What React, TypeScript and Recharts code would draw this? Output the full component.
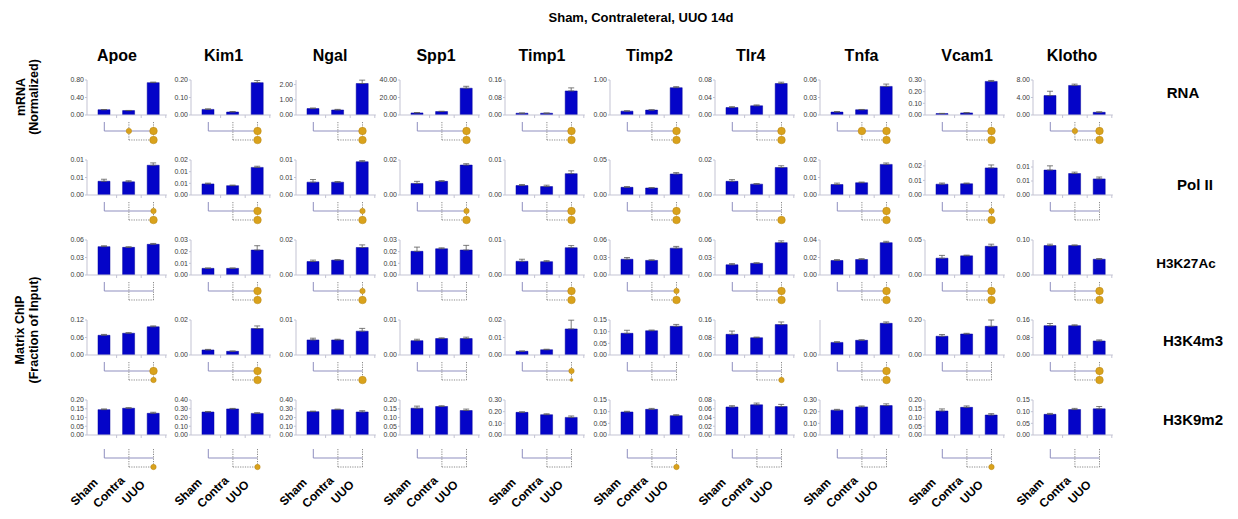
import React from 'react';
import {
  BarChart,
  Bar,
  XAxis,
  YAxis,
  ErrorBar,
  ComposedChart,
  Line,
  ReferenceLine,
  ReferenceDot,
} from 'recharts';

// ---------- data ----------
const groups = ['Sham', 'Contra', 'UUO'];
const genes = ['Apoe', 'Kim1', 'Ngal', 'Spp1', 'Timp1', 'Timp2', 'Tlr4', 'Tnfa', 'Vcam1', 'Klotho'];
const assays = ['RNA', 'Pol II', 'H3K27Ac', 'H3K4m3', 'H3K9m2'];

// mRNA (normalized): mean per gene for Sham, Contra, UUO
const rnaMeans = [
  [0.12, 0.1, 0.74], [0.032, 0.017, 0.185], [0.42, 0.33, 2.07], [2.4, 3.9, 30.6], [0.008, 0.008, 0.11],
  [0.11, 0.14, 0.78], [0.017, 0.021, 0.072], [0.005, 0.009, 0.049], [0.012, 0.018, 0.288], [4.43, 6.76, 0.62],
];
const rnaErr = [
  [0.005, 0.004, 0.012], [0.003, 0.003, 0.012], [0.04, 0.04, 0.22], [0.4, 0.4, 2.2], [0.001, 0.001, 0.014],
  [0.01, 0.01, 0.03], [0.002, 0.002, 0.003], [0.001, 0.0005, 0.004], [0.002, 0.002, 0.008], [1.0, 0.3, 0.1],
];
const rnaTicks = [
  [0, 0.4, 0.8], [0, 0.1, 0.2], [0, 1, 2], [0, 20, 40], [0, 0.08, 0.16],
  [0, 1], [0, 0.04, 0.08], [0, 0.03, 0.06], [0, 0.1, 0.2, 0.3], [0, 4, 8],
];
const rnaMax = [0.8, 0.2, 2.3, 40, 0.16, 1, 0.08, 0.06, 0.3, 8];
// marker sizes for Sham–Contra, Sham–UUO, Contra–UUO (0 none, 1 tiny, 2 small, 3 large)
const rnaSig = [
  [2, 3, 3], [0, 3, 3], [0, 3, 3], [0, 3, 3], [0, 3, 3],
  [0, 3, 3], [0, 3, 3], [3, 3, 3], [0, 3, 3], [2, 3, 3],
];

// Pol II ChIP
const polMeans = [
  [0.0047, 0.0045, 0.0102], [0.0057, 0.0048, 0.0142], [0.0044, 0.0044, 0.0114], [0.0066, 0.0078, 0.0171], [0.0027, 0.0024, 0.0061],
  [0.011, 0.01, 0.03], [0.0078, 0.0062, 0.0157], [0.006, 0.007, 0.0175], [0.0074, 0.0077, 0.0186], [0.0107, 0.0092, 0.0069],
];
const polErr = [
  [0.0007, 0.0004, 0.0008], [0.0004, 0.0003, 0.0006], [0.0009, 0.0002, 0.0004], [0.0012, 0.0004, 0.0008], [0.0003, 0.0004, 0.0008],
  [0.001, 0.0005, 0.002], [0.001, 0.0003, 0.001], [0.0008, 0.0004, 0.0008], [0.0008, 0.0005, 0.002], [0.0018, 0.0006, 0.0008],
];
const polTicks = [
  [0, 0.006, 0.012], [0, 0.006, 0.012, 0.018], [0, 0.006, 0.012], [0, 0.02], [0, 0.01],
  [0, 0.05], [0, 0.02], [0, 0.01, 0.02], [0, 0.01, 0.02], [0, 0.006, 0.012],
];
const polMax = [0.012, 0.018, 0.012, 0.02, 0.01, 0.05, 0.02, 0.02, 0.024, 0.015];
const polSig = [
  [0, 2, 3], [0, 3, 3], [0, 2, 3], [0, 2, 3], [0, 3, 3],
  [0, 3, 3], [0, 0, 3], [0, 3, 3], [0, 2, 3], [0, 0, 0],
];

// H3K27Ac ChIP
const k27Means = [
  [0.0486, 0.0474, 0.0526], [0.0057, 0.0057, 0.0214], [0.0077, 0.0085, 0.0157], [0.0203, 0.0225, 0.0214], [0.0039, 0.0038, 0.0078],
  [0.027, 0.025, 0.046], [0.0175, 0.02, 0.0555], [0.0166, 0.0177, 0.037], [0.024, 0.0274, 0.041], [0.084, 0.084, 0.045],
];
const k27Err = [
  [0.0015, 0.001, 0.0015], [0.0003, 0.0003, 0.0037], [0.0008, 0.0003, 0.0015], [0.0036, 0.0008, 0.004], [0.0006, 0.0003, 0.0006],
  [0.003, 0.001, 0.003], [0.002, 0.001, 0.003], [0.001, 0.001, 0.0015], [0.004, 0.001, 0.003], [0.004, 0.002, 0.002],
];
const k27Ticks = [
  [0, 0.03, 0.06], [0, 0.01, 0.02, 0.03], [0, 0.02], [0, 0.01, 0.02, 0.03], [0, 0.01],
  [0, 0.03, 0.06], [0, 0.03, 0.06], [0, 0.02, 0.04], [0, 0.05], [0, 0.1],
];
const k27Max = [0.06, 0.03, 0.02, 0.03, 0.01, 0.06, 0.06, 0.04, 0.05, 0.1];
const k27Sig = [
  [0, 0, 0], [0, 3, 3], [0, 2, 3], [0, 0, 0], [0, 3, 3],
  [0, 2, 3], [0, 3, 3], [0, 3, 3], [0, 3, 3], [0, 3, 3],
];

// H3K4m3 ChIP
const k4Means = [
  [0.0676, 0.0746, 0.0967], [0.0029, 0.0021, 0.0151], [0.0043, 0.0043, 0.0068], [0.0041, 0.0047, 0.0047], [0.0021, 0.003, 0.0149],
  [0.093, 0.104, 0.123], [0.0945, 0.079, 0.139], [0.072, 0.084, 0.181], [0.107, 0.12, 0.164], [0.134, 0.134, 0.064],
];
const k4Err = [
  [0.003, 0.002, 0.003], [0.0003, 0.0002, 0.0015], [0.0005, 0.0002, 0.0008], [0.0004, 0.0002, 0.0004], [0.0002, 0.0003, 0.005],
  [0.013, 0.003, 0.008], [0.015, 0.003, 0.012], [0.004, 0.003, 0.008], [0.01, 0.004, 0.036], [0.01, 0.004, 0.005],
];
const k4Ticks = [
  [0, 0.06, 0.12], [0, 0.02], [0, 0.01], [0, 0.01], [0, 0.01, 0.02],
  [0, 0.05, 0.1, 0.15], [0, 0.08, 0.16], [0], [0, 0.2], [0, 0.08, 0.16],
];
const k4Max = [0.12, 0.02, 0.01, 0.01, 0.02, 0.15, 0.16, 0.2, 0.2, 0.16];
const k4Sig = [
  [0, 3, 2], [0, 3, 3], [0, 0, 3], [0, 0, 0], [0, 2, 1],
  [0, 0, 0], [0, 0, 2], [0, 3, 3], [0, 0, 0], [0, 3, 3],
];

// H3K9m2 ChIP
const k9Means = [
  [0.145, 0.153, 0.124], [0.263, 0.298, 0.247], [0.267, 0.29, 0.263], [0.153, 0.163, 0.14], [0.194, 0.174, 0.151],
  [0.0986, 0.11, 0.083], [0.064, 0.069, 0.065], [0.213, 0.241, 0.252], [0.137, 0.158, 0.114], [0.0886, 0.109, 0.112],
];
const k9Err = [
  [0.004, 0.003, 0.006], [0.006, 0.006, 0.008], [0.006, 0.006, 0.015], [0.012, 0.004, 0.008], [0.005, 0.008, 0.012],
  [0.003, 0.004, 0.004], [0.003, 0.004, 0.005], [0.007, 0.008, 0.015], [0.012, 0.008, 0.008], [0.004, 0.005, 0.01],
];
const k9Ticks = [
  [0, 0.05, 0.1, 0.15, 0.2], [0, 0.1, 0.2, 0.3, 0.4], [0, 0.1, 0.2, 0.3, 0.4], [0, 0.05, 0.1, 0.15, 0.2], [0, 0.1, 0.2, 0.3],
  [0, 0.05, 0.1, 0.15], [0, 0.02, 0.04, 0.06, 0.08], [0, 0.1, 0.2, 0.3], [0, 0.05, 0.1, 0.15, 0.2], [0, 0.05, 0.1, 0.15],
];
const k9Max = [0.2, 0.4, 0.4, 0.2, 0.3, 0.15, 0.08, 0.3, 0.2, 0.15];
const k9Sig = [
  [0, 0, 2], [0, 0, 2], [0, 0, 0], [0, 0, 0], [0, 0, 0],
  [0, 0, 2], [0, 0, 0], [0, 0, 0], [0, 0, 2], [0, 0, 0],
];

const rows = [
  { means: rnaMeans, err: rnaErr, ticks: rnaTicks, max: rnaMax, sig: rnaSig },
  { means: polMeans, err: polErr, ticks: polTicks, max: polMax, sig: polSig },
  { means: k27Means, err: k27Err, ticks: k27Ticks, max: k27Max, sig: k27Sig },
  { means: k4Means, err: k4Err, ticks: k4Ticks, max: k4Max, sig: k4Sig },
  { means: k9Means, err: k9Err, ticks: k9Ticks, max: k9Max, sig: k9Sig },
];

// ---------- layout ----------
const FONT = '"Liberation Sans", Arial, Helvetica, sans-serif';
const SHAM_X = [104.2, 208.7, 313, 417.7, 522.5, 627, 732, 837.5, 942.5, 1050];
const PLOT_TOP = [80, 160, 240, 320, 399.5];
const PLOT_H = 35;
const YW = 28;
const PAD_L = 5;
const PAD_R = 1;
const BAND = 24.6;
const PLOT_W = PAD_L + 3 * BAND + PAD_R;
const M_TOP = 4;
const X_H = 6;
const DIAG_GAP = [7, 7, 7, 7, 14];
const DIAG_H = 18;
const DIAG_M = 5;
const LABEL_H = 45;
const DOT_R = [0, 1.4, 2.7, 3.8];

const AXIS = '#c3c3d3';
const BAR = '#0404c8';
const SOLID = '#8f8fbf';
const DOTTED = '#8a8a8a';
const GOLD = '#d9a21c';

const headerX = [117, 223.5, 330, 436, 542, 649.5, 750.7, 861.5, 967, 1072];
const assayX = [1183, 1195, 1186, 1193, 1193];
const assayY = [97.5, 190, 268, 346, 425];
const assaySize = [15, 15, 13.5, 15, 15];

const BetweenTick = (props: any) => {
  const { x, y } = props;
  const bx = x + BAND / 2;
  return <line x1={bx} x2={bx} y1={y} y2={y + 3} stroke={AXIS} strokeWidth={1} />;
};

const GroupLabel = (props: any) => {
  const { x, y, payload } = props;
  const cx = x - 20;
  const cy = y + 25;
  return (
    <text
      x={cx}
      y={cy}
      transform={`rotate(-45 ${cx} ${cy})`}
      textAnchor="middle"
      dominantBaseline="central"
      fontSize={12}
      fontWeight="bold"
      fontFamily={FONT}
      fill="#000"
    >
      {payload.value}
    </text>
  );
};

function Panel({ row, col }: { row: number; col: number }) {
  const spec = rows[row];
  const data = groups.map((g, i) => ({
    cat: g,
    v: spec.means[col][i],
    e: [0, spec.err[col][i]],
  }));
  const plotLeft = SHAM_X[col] - BAND / 2 - PAD_L;
  const left = plotLeft - YW;
  const width = YW + PLOT_W + 2;
  const zero = PLOT_TOP[row] + PLOT_H;

  const [sc, su, cu] = spec.sig[col];
  const dots = [
    { x: 'Contra', y: 1, s: sc },
    { x: 'UUO', y: 1, s: su },
    { x: 'UUO', y: 2, s: cu },
  ].filter((d) => d.s > 0);

  const last = row === rows.length - 1;
  const diagTop = zero + DIAG_GAP[row] - DIAG_M;
  const diagHeight = DIAG_M + DIAG_H + (last ? LABEL_H : DIAG_M);
  const diagData = groups.map((g, i) => ({ cat: g, l1: 1, l2: i === 0 ? null : 2 }));

  return (
    <>
      <div style={{ position: 'absolute', left, top: PLOT_TOP[row] - M_TOP }}>
        <BarChart
          width={width}
          height={M_TOP + PLOT_H + X_H}
          data={data}
          margin={{ top: M_TOP, right: 2, bottom: 0, left: 0 }}
          barSize={12}
        >
          <XAxis
            dataKey="cat"
            height={X_H}
            padding={{ left: PAD_L, right: PAD_R }}
            axisLine={{ stroke: AXIS }}
            tickLine={false}
            tickSize={0}
            tickMargin={0}
            interval={0}
            tick={BetweenTick}
          />
          <YAxis
            width={YW}
            type="number"
            domain={[0, spec.max[col]]}
            ticks={spec.ticks[col]}
            allowDataOverflow
            interval={0}
            tickFormatter={(v: number) => v.toFixed(2)}
            tick={{ fontSize: 7, fill: '#3a3a3a', fontFamily: FONT }}
            tickSize={2}
            tickMargin={1}
            axisLine={{ stroke: AXIS }}
            tickLine={{ stroke: AXIS }}
          />
          <Bar dataKey="v" fill={BAR} stroke="#00009a" strokeWidth={0.5} isAnimationActive={false}>
            <ErrorBar dataKey="e" width={3} stroke="#5a5a5a" strokeWidth={0.8} direction="y" />
          </Bar>
        </BarChart>
      </div>
      <div style={{ position: 'absolute', left, top: diagTop }}>
        <ComposedChart
          width={width}
          height={diagHeight}
          data={diagData}
          margin={{ top: DIAG_M, right: 2, bottom: last ? 0 : DIAG_M, left: YW }}
        >
          <XAxis
            dataKey="cat"
            scale="band"
            padding={{ left: PAD_L, right: PAD_R }}
            hide={!last}
            height={last ? LABEL_H : 0}
            axisLine={false}
            tickLine={false}
            tickSize={0}
            tickMargin={0}
            interval={0}
            tick={GroupLabel}
          />
          <YAxis type="number" domain={[0, 2]} reversed hide />
          <Line dataKey="l1" stroke="none" dot={false} isAnimationActive={false} />
          <ReferenceLine segment={[{ x: 'Sham', y: 0 }, { x: 'Sham', y: 1 }]} stroke={SOLID} strokeWidth={1} />
          <ReferenceLine segment={[{ x: 'Sham', y: 1 }, { x: 'UUO', y: 1 }]} stroke={SOLID} strokeWidth={1} />
          <ReferenceLine
            segment={[{ x: 'Contra', y: 0 }, { x: 'Contra', y: 2 }]}
            stroke={DOTTED}
            strokeWidth={1}
            strokeDasharray="1.2 1.2"
          />
          <ReferenceLine
            segment={[{ x: 'UUO', y: 0 }, { x: 'UUO', y: 2 }]}
            stroke={DOTTED}
            strokeWidth={1}
            strokeDasharray="1.2 1.2"
          />
          <ReferenceLine
            segment={[{ x: 'Contra', y: 2 }, { x: 'UUO', y: 2 }]}
            stroke={DOTTED}
            strokeWidth={1}
            strokeDasharray="1.2 1.2"
          />
          {dots.map((d, i) => (
            <ReferenceDot
              key={i}
              x={d.x}
              y={d.y}
              r={DOT_R[d.s]}
              fill={GOLD}
              stroke="#b98512"
              strokeWidth={0.5}
            />
          ))}
        </ComposedChart>
      </div>
    </>
  );
}

export default function App() {
  return (
    <div
      style={{
        position: 'absolute',
        left: 0,
        top: 0,
        width: 1238,
        height: 519,
        background: '#fff',
        fontFamily: FONT,
        overflow: 'hidden',
      }}
    >
      {rows.map((_, r) => genes.map((_, c) => <Panel key={`${r}-${c}`} row={r} col={c} />))}
      <svg
        width={1238}
        height={519}
        style={{ position: 'absolute', left: 0, top: 0, pointerEvents: 'none' }}
        fontFamily={FONT}
        fontWeight="bold"
      >
        <text x={641} y={22} textAnchor="middle" fontSize={13}>
          Sham, Contraleteral, UUO 14d
        </text>
        {genes.map((g, i) => (
          <text key={g} x={headerX[i]} y={61} textAnchor="middle" fontSize={16}>
            {g}
          </text>
        ))}
        {assays.map((a, i) => (
          <text key={a} x={assayX[i]} y={assayY[i]} textAnchor="middle" fontSize={assaySize[i]}>
            {a}
          </text>
        ))}
        <g transform="translate(0 97) rotate(-90)">
          <text x={0} y={24.5} textAnchor="middle" fontSize={12.5}>mRNA</text>
          <text x={0} y={38} textAnchor="middle" fontSize={12.5}>(Normalized)</text>
        </g>
        <g transform="translate(0 330) rotate(-90)">
          <text x={0} y={24} textAnchor="middle" fontSize={12.5}>Matrix ChIP</text>
          <text x={0} y={38} textAnchor="middle" fontSize={12.5}>(Fraction of Input)</text>
        </g>
      </svg>
    </div>
  );
}
